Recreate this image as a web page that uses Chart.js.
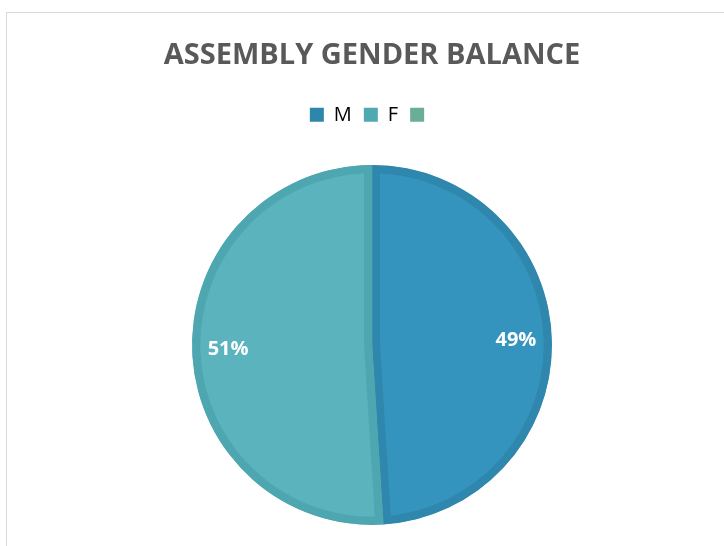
<!DOCTYPE html>
<html>
<head>
<meta charset="utf-8">
<script src="https://cdn.jsdelivr.net/npm/chart.js@4"></script>
<style>
  html, body { margin: 0; padding: 0; background: #fff; }
  #wrap { position: relative; width: 724px; height: 546px; }
  #frame { position: absolute; left: 6px; top: 12px; right: -2px; bottom: -2px;
           border-top: 1px solid #d9d9d9; border-left: 1px solid #d9d9d9; }
  canvas { position: absolute; left: 0; top: 0; }
</style>
</head>
<body>
<div id="wrap">
  <div id="frame"></div>
  <canvas id="genderChart" width="724" height="546"></canvas>
</div>
<script>
// Assembly gender balance
const labels = ["M", "F", ""];
const values = [49, 51, 0];
const fillColors = ["#3594be", "#5ab3bd", "#6aae98"];
const edgeColors = ["#2f87ad", "#4ea7b0", "#5fa38c"];
const legendColors = ["#2e86ab", "#4fa9b1", "#6aae98"];

// white percent labels inside each slice
const sliceLabels = {
  id: "sliceLabels",
  afterDatasetsDraw(chart) {
    const ctx = chart.ctx;
    const meta = chart.getDatasetMeta(0);
    const total = values.reduce((a, b) => a + b, 0);
    ctx.save();
    ctx.fillStyle = "#ffffff";
    ctx.font = "bold 20px 'Open Sans', sans-serif";
    ctx.textAlign = "center";
    ctx.textBaseline = "middle";
    meta.data.forEach((arc, i) => {
      if (!values[i]) return;
      const mid = (arc.startAngle + arc.endAngle) / 2;
      const r = arc.outerRadius * 0.8;
      const x = arc.x + Math.cos(mid) * r;
      const y = arc.y + Math.sin(mid) * r;
      ctx.fillText(Math.round(values[i] / total * 100) + "%", x, y);
    });
    ctx.restore();
  }
};

// extra gap under the legend
const legendGap = {
  id: "legendGap",
  beforeInit(chart) {
    const origFit = chart.legend.fit;
    chart.legend.fit = function () {
      origFit.bind(chart.legend)();
      this.height += 9;
    };
  }
};

const genderChart = new Chart(document.getElementById("genderChart"), {
  type: "pie",
  data: {
    labels: labels,
    datasets: [{
      data: values,
      backgroundColor: fillColors,
      borderColor: edgeColors,
      borderWidth: 8,
      borderAlign: "inner"
    }]
  },
  plugins: [sliceLabels, legendGap],
  options: {
    responsive: false,
    animation: false,
    radius: 180,
    layout: { padding: { left: 20, right: 0, top: 0, bottom: 0 } },
    plugins: {
      tooltip: { enabled: false },
      title: {
        display: true,
        text: "ASSEMBLY GENDER BALANCE",
        color: "#595959",
        font: { family: "'Open Sans', sans-serif", size: 29, weight: "bold" },
        padding: { top: 38, bottom: 20 }
      },
      legend: {
        position: "top",
        labels: {
          color: "#595959",
          font: { family: "'Open Sans', sans-serif", size: 20 },
          boxWidth: 14,
          boxHeight: 14,
          padding: 12,
          generateLabels(chart) {
            return labels.map((l, i) => ({
              text: l,
              fillStyle: legendColors[i],
              strokeStyle: legendColors[i],
              lineWidth: 0,
              hidden: false,
              index: i
            }));
          }
        }
      }
    }
  }
});
</script>
</body>
</html>
